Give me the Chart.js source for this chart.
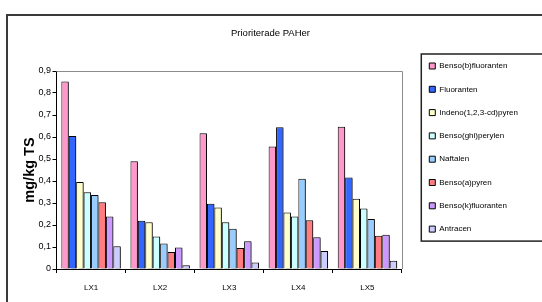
<!DOCTYPE html>
<html>
<head>
<meta charset="utf-8">
<script src="https://cdn.jsdelivr.net/npm/chart.js@4/dist/chart.umd.min.js"></script>
<style>
    body { margin: 0; background: #fff; }
    #frame { position: absolute; left: 6px; top: 14px; width: 600px; height: 320px; border: 2px solid #3a3a3a; }
    #wrap { position: absolute; left: 0; top: 0; width: 542px; height: 302px; }
</style>
</head>
<body>
<div id="frame"></div>
<div id="wrap"><canvas id="pahChart" width="542" height="302"></canvas></div>
<script>
// Data
const sites = ['LX1', 'LX2', 'LX3', 'LX4', 'LX5'];
const bensoB = [0.852, 0.490, 0.617, 0.557, 0.647];
const fluoranten = [0.605, 0.219, 0.297, 0.644, 0.416];
const indeno = [0.395, 0.213, 0.280, 0.257, 0.319];
const bensoGhi = [0.349, 0.148, 0.213, 0.239, 0.275];
const naftalen = [0.336, 0.116, 0.183, 0.410, 0.227];
const bensoA = [0.303, 0.077, 0.095, 0.222, 0.151];
const bensoK = [0.239, 0.098, 0.126, 0.144, 0.156];
const antracen = [0.103, 0.017, 0.029, 0.082, 0.038];

const seriesNames = ['Benso(b)fluoranten', 'Fluoranten', 'Indeno(1,2,3-cd)pyren', 'Benso(ghi)perylen',
    'Naftalen', 'Benso(a)pyren', 'Benso(k)fluoranten', 'Antracen'];
const seriesValues = [bensoB, fluoranten, indeno, bensoGhi, naftalen, bensoA, bensoK, antracen];
const seriesColors = ['#ff99cc', '#3366ff', '#ffffcc', '#ccffff', '#99ccff', '#ff7c80', '#cc99ff', '#ccccff'];

const yTicksMax = 0.9;
const yStep = 0.1;

const sans = "'Liberation Sans', Arial, sans-serif";
const rightGap = 12; // room between plot and legend

// Leave a gap between the plot area and the legend, grey frame, bar shadows
const plotArea = {
    id: 'plotArea',
    afterLayout(chart) {
        const area = chart.chartArea;
        const x = chart.scales.x;
        area.right -= rightGap;
        area.width -= rightGap;
        x.right -= rightGap;
        x.width -= rightGap;
        x.configure();
    },
    beforeDatasetsDraw(chart) {
        const a = chart.chartArea;
        const ctx = chart.ctx;
        ctx.save();
        ctx.strokeStyle = '#8c8c8c';
        ctx.lineWidth = 1;
        ctx.beginPath();
        ctx.moveTo(a.left, Math.round(a.top) + 0.5);
        ctx.lineTo(Math.round(a.right) + 0.5, Math.round(a.top) + 0.5);
        ctx.lineTo(Math.round(a.right) + 0.5, a.bottom);
        ctx.stroke();
        ctx.restore();
        ctx.save();
        ctx.shadowColor = 'rgba(0, 0, 0, 0.45)';
        ctx.shadowOffsetX = 2;
        ctx.shadowOffsetY = 1;
        ctx.shadowBlur = 0;
    },
    afterDatasetsDraw(chart) {
        chart.ctx.restore();
    }
};

// Frame round the legend
const legendFrame = {
    id: 'legendFrame',
    afterDraw(chart) {
        const boxes = chart.legend.legendHitBoxes;
        if (!boxes || !boxes.length) return;
        const first = boxes[0];
        const last = boxes[boxes.length - 1];
        const top = first.top - 8;
        const bottom = last.top + last.height + 8;
        const ctx = chart.ctx;
        ctx.save();
        ctx.strokeStyle = '#222';
        ctx.lineWidth = 1.5;
        ctx.strokeRect(first.left - 8, top, 600, bottom - top);
        ctx.restore();
    }
};

const datasets = seriesNames.map((name, i) => ({
    label: name,
    data: seriesValues[i],
    backgroundColor: seriesColors[i],
    borderColor: '#000',
    borderWidth: 1,
    barPercentage: 1,
    categoryPercentage: 0.86
}));

new Chart(document.getElementById('pahChart'), {
    type: 'bar',
    data: { labels: sites, datasets: datasets },
    plugins: [plotArea, legendFrame],
    options: {
        responsive: false,
        animation: false,
        layout: { padding: { left: 13, right: 14, top: 0, bottom: 0 } },
        plugins: {
            title: {
                display: true,
                text: 'Prioriterade PAHer',
                color: '#000',
                font: { family: sans, size: 9.5, weight: 'normal' },
                padding: { top: 27.3, bottom: 9.3 }
            },
            legend: {
                position: 'right',
                align: 'start',
                title: {
                    display: true,
                    text: ' ',
                    font: { size: 10 },
                    padding: { top: 0, bottom: 34.7 }
                },
                labels: {
                    color: '#000',
                    font: { family: sans, size: 8 },
                    boxWidth: 6,
                    boxHeight: 6,
                    padding: 15.3
                }
            },
            tooltip: { enabled: false }
        },
        scales: {
            x: {
                grid: { offset: true, drawOnChartArea: false, tickLength: 4, color: '#000' },
                border: { color: '#000', width: 1 },
                ticks: { color: '#000', font: { family: sans, size: 8 }, padding: 9.7 }
            },
            xTop: {
                type: 'category',
                position: 'top',
                grid: { display: false },
                ticks: { display: false },
                border: { display: false },
                afterFit: s => { s.height = 23; }
            },
            y: {
                min: 0,
                max: yTicksMax,
                grid: { drawOnChartArea: false, tickLength: 4, color: '#000' },
                border: { color: '#000', width: 1 },
                ticks: {
                    stepSize: yStep,
                    color: '#000',
                    font: { family: sans, size: 9 },
                    padding: 1.5,
                    callback: v => v === 0 ? '0' : v.toFixed(1).replace('.', ',')
                },
                title: {
                    display: true,
                    text: 'mg/kg TS',
                    color: '#000',
                    font: { family: sans, size: 14.5, weight: 'bold', lineHeight: 1 },
                    padding: { top: 9.5, bottom: 0 }
                }
            }
        }
    }
});
</script>
</body>
</html>
